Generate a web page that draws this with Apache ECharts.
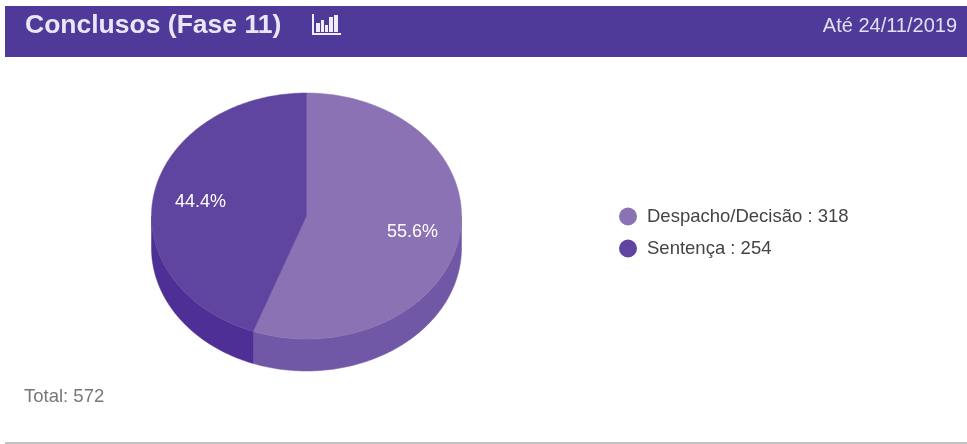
<!DOCTYPE html>
<html>
<head>
<meta charset="utf-8">
<style>html,body{margin:0;padding:0;background:#fff}#c{width:967px;height:444px}</style>
<script src="https://cdn.jsdelivr.net/npm/echarts@6/dist/echarts.min.js"></script>
</head>
<body>
<div id="c"></div>
<script>
const categories = ['Despacho/Decisão', 'Sentença'];
const values = [318, 254];
const titleText = 'Conclusos (Fase 11)';
const dateText = 'Até 24/11/2019';
const totalLabel = 'Total: 572';

const topColors = ['#8a72b4', '#5f45a0'];
const sideColors = ['#7058a6', '#4e2f96'];
const FONT = '"Liberation Sans", Arial, sans-serif';

// Tilted pie geometry: elliptical top face plus a visible rim below it.
const cx = 306.5, cy = 216, rx = 155, ry = 123, depth = 32;
const sum = values.reduce((a, b) => a + b, 0);
const edge = (deg, dy) => {
  const t = deg * Math.PI / 180;
  return [cx + rx * Math.sin(t), cy - ry * Math.cos(t) + dy];
};

function sliceItem(params, api) {
  const i = params.seriesIndex;
  const before = values.slice(0, i).reduce((a, b) => a + b, 0);
  const a0 = before / sum * 360;
  const a1 = a0 + api.value(0) / sum * 360;
  const children = [];

  // Rim: only the front half of the disc (90..270 degrees) is visible.
  const s0 = Math.max(a0, 90), s1 = Math.min(a1, 270);
  if (s1 > s0) {
    const upper = [], lower = [];
    for (let d = s0; d <= s1 + 1e-6; d += 1) { upper.push(edge(d, 0)); lower.unshift(edge(d, depth)); }
    upper.push(edge(s1, 0));
    lower.unshift(edge(s1, depth));
    children.push({
      type: 'polygon',
      shape: { points: upper.concat(lower) },
      style: { fill: sideColors[i], stroke: sideColors[i], lineWidth: 0.5 }
    });
  }

  // Top face.
  const pts = [[cx, cy]];
  for (let d = a0; d <= a1 + 1e-6; d += 1) pts.push(edge(d, 0));
  pts.push(edge(a1, 0));
  children.push({
    type: 'polygon',
    shape: { points: pts },
    style: { fill: topColors[i], stroke: topColors[i], lineWidth: 0.5 }
  });

  // Percentage label inside the slice.
  const mid = edge((a0 + a1) / 2, 0);
  children.push({
    type: 'text',
    style: {
      x: cx + (mid[0] - cx) * 0.694,
      y: cy + (mid[1] - cy) * 0.694 + 1,
      text: (api.value(0) / sum * 100).toFixed(1) + '%',
      fill: '#fff', font: '18px ' + FONT,
      align: 'center', verticalAlign: 'middle'
    }
  });
  return { type: 'group', children };
}

// Small bar-chart glyph beside the heading.
const iconBars = [[316, 23, 4, 9], [321, 20, 3, 12], [325, 25, 3, 7], [329, 17, 4, 15], [334, 15, 4, 17]];

const chart = echarts.init(document.getElementById('c'));
chart.setOption({
  animation: false,
  backgroundColor: '#fff',
  graphic: [
    { type: 'rect', z: 0, shape: { x: 5, y: 6, width: 962, height: 51 }, style: { fill: '#4f3a99' } },
    { type: 'rect', z: 0, shape: { x: 5, y: 442, width: 962, height: 2 }, style: { fill: '#c4c4c4' } },
    { type: 'rect', z: 1, shape: { x: 312, y: 33, width: 29, height: 2 }, style: { fill: '#f0ecf8' } },
    { type: 'rect', z: 1, shape: { x: 312, y: 14, width: 2, height: 20 }, style: { fill: '#f0ecf8' } },
    ...iconBars.map(b => ({ type: 'rect', z: 1, shape: { x: b[0], y: b[1], width: b[2], height: b[3] }, style: { fill: '#f0ecf8' } })),
    { type: 'text', z: 1, style: { x: 25, y: 26, text: titleText, fill: '#ebe6f7', font: 'bold 26.5px ' + FONT, verticalAlign: 'middle' } },
    { type: 'text', z: 1, style: { x: 957, y: 26, text: dateText, fill: '#e4def2', font: '20px ' + FONT, align: 'right', verticalAlign: 'middle' } },
    { type: 'text', z: 1, style: { x: 24, y: 397, text: totalLabel, fill: '#777', font: '18.5px ' + FONT, verticalAlign: 'middle' } }
  ],
  legend: {
    orient: 'vertical',
    left: 614,
    top: 202,
    icon: 'circle',
    itemWidth: 18,
    itemHeight: 18,
    itemGap: 13,
    selectedMode: false,
    data: categories,
    formatter: name => name + ' : ' + values[categories.indexOf(name)],
    textStyle: { color: '#444', fontFamily: FONT, fontSize: 18.5, padding: [0, 0, 0, 5] }
  },
  series: categories.map((name, i) => ({
    type: 'custom',
    name,
    coordinateSystem: 'none',
    silent: true,
    itemStyle: { color: topColors[i] },
    data: [[values[i]]],
    renderItem: sliceItem
  }))
});
</script>
</body>
</html>
